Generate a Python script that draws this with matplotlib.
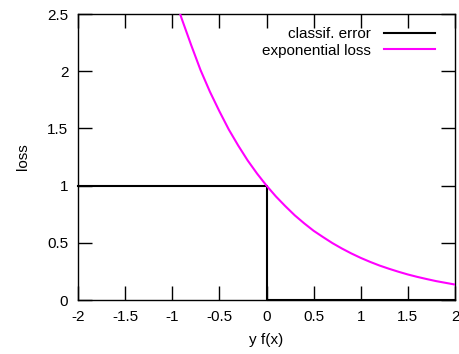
import matplotlib
matplotlib.use("Agg")
import matplotlib.pyplot as plt

plt.rcParams['font.family'] = ['Liberation Sans', 'DejaVu Sans']

# classification error (step)
err_x = [-2, 0, 0, 2]
err_y = [1, 1, 0, 0]

# exponential loss
exp_x = [-0.92, -0.9, -0.8, -0.7, -0.6, -0.5, -0.4, -0.3, -0.2, -0.1, 0.0,
         0.1, 0.2, 0.3, 0.4, 0.5, 0.6, 0.7, 0.8, 0.9, 1.0,
         1.1, 1.2, 1.3, 1.4, 1.5, 1.6, 1.7, 1.8, 1.9, 2.0]
exp_y = [2.51, 2.46, 2.23, 2.01, 1.82, 1.65, 1.49, 1.35, 1.22, 1.105, 1.0,
         0.905, 0.82, 0.74, 0.67, 0.605, 0.55, 0.497, 0.45, 0.407, 0.368,
         0.333, 0.301, 0.273, 0.247, 0.223, 0.202, 0.183, 0.165, 0.15, 0.135]

xticks = [-2, -1.5, -1, -0.5, 0, 0.5, 1, 1.5, 2]
yticks = [0, 0.5, 1, 1.5, 2, 2.5]

fig = plt.figure(figsize=(4.6, 3.54), dpi=100)
ax = fig.add_axes([78/460, 1 - 300/354, (455 - 78)/460, (300 - 14)/354])

ax.plot(err_x, err_y, color='black', lw=1.5, label='classif. error', clip_on=False, zorder=3)
ax.plot(exp_x, exp_y, color='#ff00ff', lw=1.5, label='exponential loss', zorder=3)

ax.set_xlim(-2, 2)
ax.set_ylim(0, 2.5)
ax.set_xticks(xticks)
ax.set_xticklabels([('%g' % t) for t in xticks])
ax.set_yticks(yticks)
ax.set_yticklabels([('%g' % t) for t in yticks])
ax.tick_params(direction='in', length=10, width=1, top=True, right=True,
               labelsize=11, pad=7)
for s in ax.spines.values():
    s.set_linewidth(1)

ax.set_xlabel('y f(x)', fontsize=11, labelpad=7)
ax.set_ylabel('loss', fontsize=11, labelpad=12)

ax.legend(loc='upper right', bbox_to_anchor=(0.987, 1.007), frameon=False,
          markerfirst=False, fontsize=11, handlelength=3.3, borderaxespad=0.6,
          borderpad=0.4, labelspacing=0.15, handletextpad=0.9)

fig.savefig('out.png', dpi=100)
